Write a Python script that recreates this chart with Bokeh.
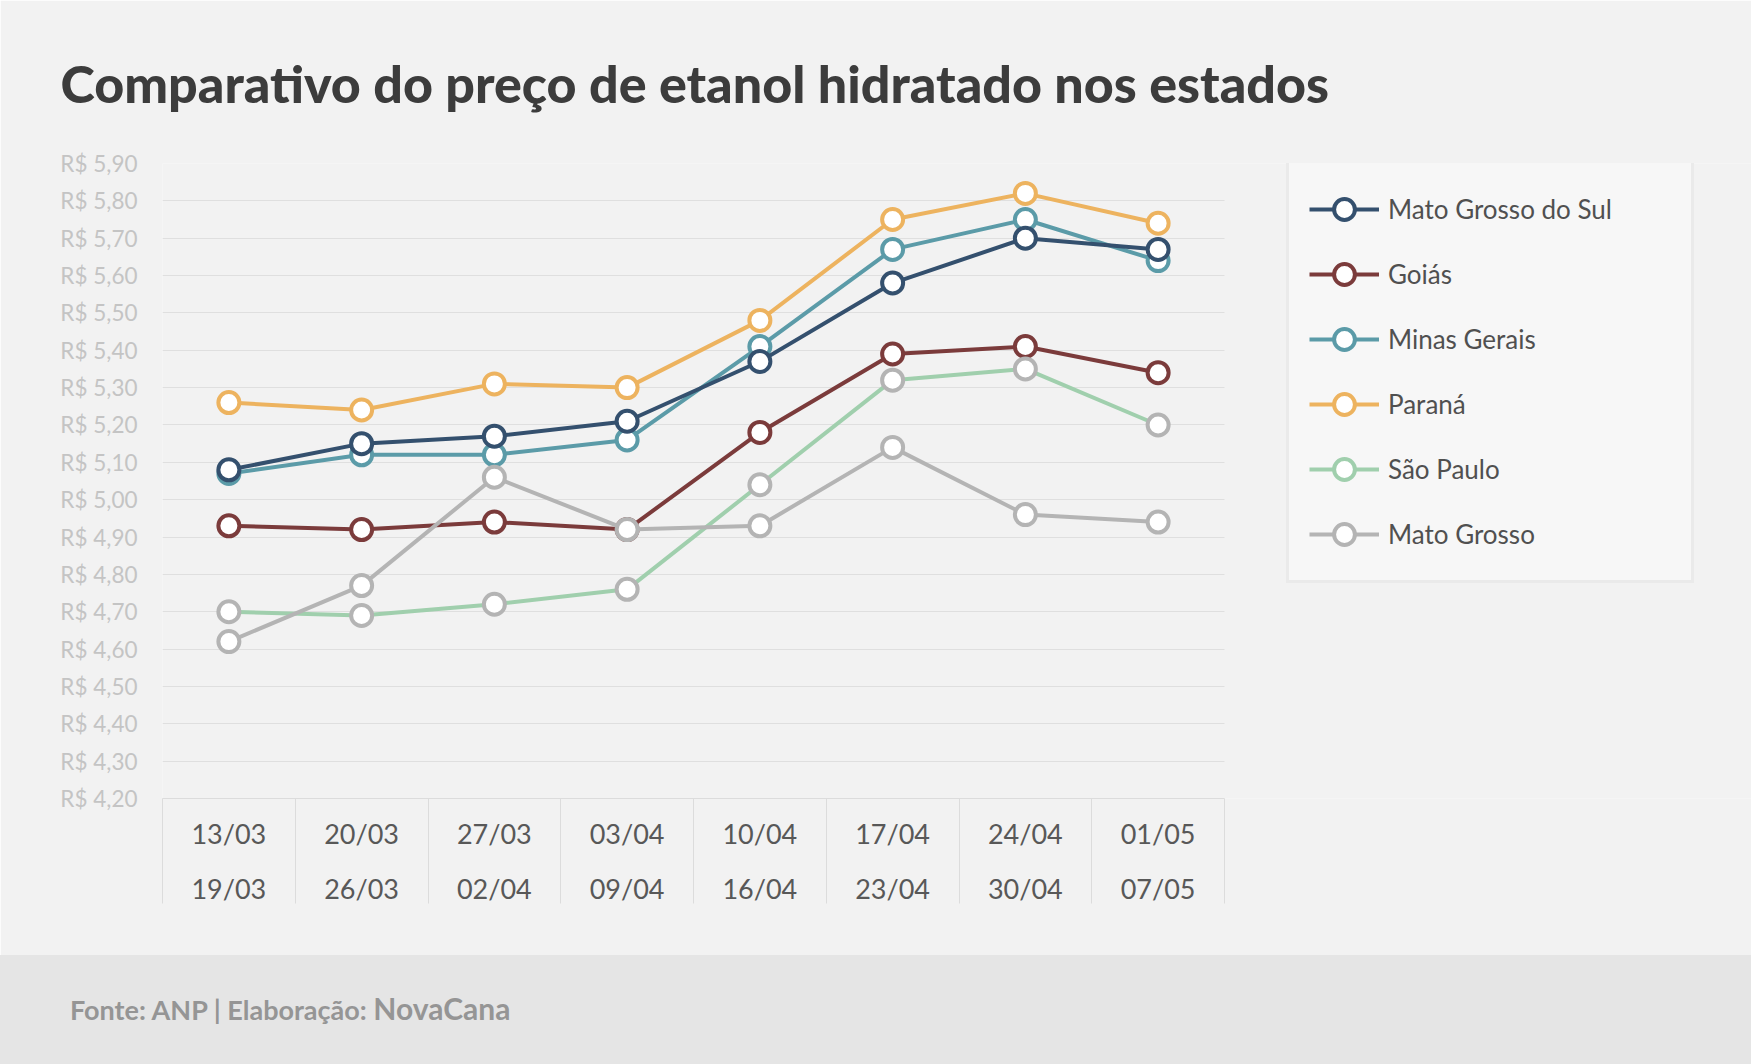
from bokeh.plotting import figure
from bokeh.models import (Range1d, FixedTicker, CustomJSTickFormatter, Title, Div,
                          Legend, LegendItem)
from bokeh.layouts import column
from bokeh.embed import file_html
from bokeh.resources import INLINE

# Semanas de coleta (início / fim)
inicio = ["13/03", "20/03", "27/03", "03/04", "10/04", "17/04", "24/04", "01/05"]
fim = ["19/03", "26/03", "02/04", "09/04", "16/04", "23/04", "30/04", "07/05"]

# Preço médio do etanol hidratado (R$/litro)
mato_grosso_do_sul = [5.08, 5.15, 5.17, 5.21, 5.37, 5.58, 5.70, 5.67]
goias = [4.93, 4.92, 4.94, 4.92, 5.18, 5.39, 5.41, 5.34]
minas_gerais = [5.07, 5.12, 5.12, 5.16, 5.41, 5.67, 5.75, 5.64]
parana = [5.26, 5.24, 5.31, 5.30, 5.48, 5.75, 5.82, 5.74]
sao_paulo = [4.70, 4.69, 4.72, 4.76, 5.04, 5.32, 5.35, 5.20]
mato_grosso = [4.62, 4.77, 5.06, 4.92, 4.93, 5.14, 4.96, 4.94]

estados = ["Mato Grosso do Sul", "Goiás", "Minas Gerais", "Paraná", "São Paulo", "Mato Grosso"]
series = [mato_grosso_do_sul, goias, minas_gerais, parana, sao_paulo, mato_grosso]
cores = ["#34506e", "#7b3b3b", "#5b9ba8", "#edb35f", "#a0cfad", "#b4b4b4"]
# contorno dos marcadores no gráfico (São Paulo usa contorno cinza)
cores_marcador = ["#34506e", "#7b3b3b", "#5b9ba8", "#edb35f", "#b4b4b4", "#b4b4b4"]
# ordem de desenho (último fica por cima)
ordem = [2, 3, 0, 1, 4, 5]

FONTE = "Lato"
FUNDO = "#f2f2f2"
Y_MIN, Y_MAX = 4.2, 5.9
MARCADOR = 21

# geometria: área do gráfico (px) dentro de um quadro que vai até a borda direita,
# para que a legenda fique dentro do quadro
LARGURA, ALTURA = 1751, 955
ESQ, TOPO, BASE = 162, 163, 157
LARGURA_GRAFICO = 1062
n = len(inicio)
x_fim = n * (LARGURA - ESQ) / LARGURA_GRAFICO

p = figure(width=LARGURA, height=ALTURA, output_backend="svg", toolbar_location=None, tools="",
           x_range=Range1d(0, x_fim), y_range=Range1d(Y_MIN, Y_MAX),
           min_border_left=ESQ, min_border_right=0, min_border_top=TOPO, min_border_bottom=BASE,
           background_fill_color=FUNDO, border_fill_color=FUNDO, outline_line_color=None)

# título
p.title = Title(text="Comparativo do preço de etanol hidratado nos estados",
                align="left", offset=-102, standoff=99,
                text_font="Lato Black", text_font_size="52px",
                text_color="#3c3c3c")

# eixo Y
ticks_y = [round(Y_MIN + 0.1 * i, 2) for i in range(int(round((Y_MAX - Y_MIN) / 0.1)) + 1)]
p.yaxis.ticker = FixedTicker(ticks=ticks_y, minor_ticks=[])
p.yaxis.formatter = CustomJSTickFormatter(code='return "R$ " + tick.toFixed(2).replace(".", ",")')
p.yaxis.major_label_text_font = FONTE
p.yaxis.major_label_text_font_size = "22.5px"
p.yaxis.major_label_text_color = "#c4c4c4"
p.yaxis.major_label_standoff = 19
p.yaxis.axis_line_color = None
p.yaxis.major_tick_line_color = None
p.yaxis.minor_tick_line_color = None

p.ygrid.ticker = FixedTicker(ticks=ticks_y, minor_ticks=[])
p.ygrid.cross_bounds = (0, n)
p.ygrid.grid_line_color = "#dfdfdf"
p.ygrid.grid_line_width = 1.2
p.xgrid.visible = False

# eixo X: rótulos das semanas nos centros, divisórias nas bordas
xs = [i + 0.5 for i in range(n)]
p.xaxis.bounds = (0, n)
p.xaxis.ticker = FixedTicker(ticks=xs, minor_ticks=list(range(n + 1)))
p.xaxis.major_label_overrides = {x: f"{a}\n{b}" for x, a, b in zip(xs, inicio, fim)}
p.xaxis.major_label_text_font = FONTE
p.xaxis.major_label_text_font_size = "27px"
p.xaxis.major_label_text_color = "#585858"
p.xaxis.major_label_text_line_height = 1.67
p.xaxis.major_label_standoff = -87
p.xaxis.major_tick_line_color = None
p.xaxis.major_tick_out = 0
p.xaxis.major_tick_in = 0
p.xaxis.minor_tick_out = 105
p.xaxis.minor_tick_in = 0
p.xaxis.minor_tick_line_color = "#dcdcdc"
p.xaxis.axis_line_color = "#dcdcdc"

renders = {}
for idx in ordem:
    r_l = p.line(xs, series[idx], line_color=cores[idx], line_width=4, line_join="round")
    r_m = p.scatter(xs, series[idx], marker="circle", size=MARCADOR, fill_color="white",
                    line_color=cores_marcador[idx], line_width=4)
    renders[idx] = (r_l, r_m)

# legenda (o marcador de São Paulo aparece verde na legenda)
nan = float("nan")
itens = []
for i, (nome, cor) in enumerate(zip(estados, cores)):
    r_l, r_m = renders[i]
    if cores_marcador[i] != cor:
        r_m = p.scatter([nan], [nan], marker="circle", size=MARCADOR, fill_color="white",
                        line_color=cor, line_width=4)
    itens.append(LegendItem(label=nome, renderers=[r_l, r_m]))

legenda = Legend(items=itens, location=(1286 - ESQ, 215), orientation="vertical",
                 glyph_width=70, glyph_height=52, label_height=52, label_width=283,
                 label_standoff=9, spacing=13, padding=20, margin=0,
                 border_line_color="#dedede", border_line_width=3,
                 background_fill_color="#f7f7f7", background_fill_alpha=1,
                 label_text_font=FONTE, label_text_font_size="26px",
                 label_text_color="#505050", label_text_baseline="middle")
p.add_layout(legenda)

# rodapé
rodape = Div(
    text=('<span style="font-family: Lato; font-weight: bold; font-size: 27px; color: #959595;">'
          'Fonte: ANP | Elaboração: </span>'
          '<span style="font-family: Lato; font-weight: bold; font-size: 30px; color: #959595;">'
          'NovaCana</span>'),
    width=LARGURA, height=109,
    styles={"background-color": "#e5e5e5", "padding-left": "70px", "padding-top": "32px",
            "box-sizing": "border-box", "margin": "0"})

layout = column(p, rodape, spacing=0)

with open("out.html", "w") as f:
    f.write(file_html(layout, INLINE))
